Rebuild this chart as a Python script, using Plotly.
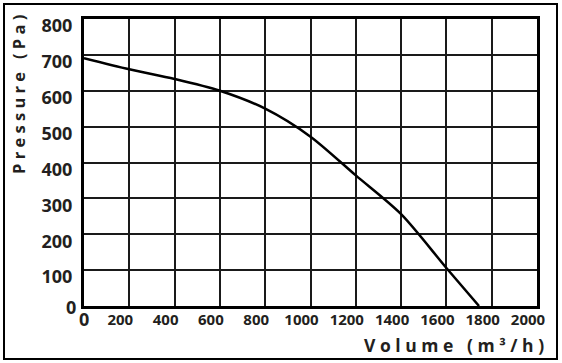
import plotly.graph_objects as go

volume = [0, 200, 400, 600, 800, 1000, 1200, 1400, 1600, 1744]
pressure = [691, 660, 633, 600, 550, 472, 364, 256, 106, 0]

x_ticks = [0, 200, 400, 600, 800, 1000, 1200, 1400, 1600, 1800, 2000]
y_ticks = [0, 100, 200, 300, 400, 500, 600, 700, 800]

W, H = 562, 363
L, R, T, B = 84, 25, 19, 57
pw, ph = W - L - R, H - T - B

FONT = "Open Sans"
INK = "#231f20"

fig = go.Figure()
fig.add_trace(go.Scatter(x=volume, y=pressure, mode="lines",
                         line=dict(color="black", width=2.5, shape="spline", smoothing=0.8),
                         hoverinfo="skip", showlegend=False))

# zeros of both axes are drawn as separate labels at the origin (as in the reference)
x_text = [""] + [str(v) for v in x_ticks[1:]]
y_text = [""] + [str(v) for v in y_ticks[1:]]

fig.update_xaxes(range=[0, 2000], tickvals=x_ticks, ticktext=x_text, automargin=False,
                 showgrid=True, gridcolor="#1a1a1a", gridwidth=2,
                 showline=True, linecolor="black", linewidth=3, mirror=True,
                 zeroline=False, ticks="", ticklabelshift=-9, ticklabelstandoff=-2,
                 tickfont=dict(family=FONT, size=15, color=INK, weight="bold"))
fig.update_yaxes(range=[0, 800], tickvals=y_ticks, ticktext=y_text, automargin=False,
                 showgrid=True, gridcolor="#1a1a1a", gridwidth=2,
                 showline=True, linecolor="black", linewidth=3, mirror=True,
                 zeroline=False, ticks="", ticklabelshift=7, ticklabelstandoff=5,
                 tickfont=dict(family=FONT, size=18, color=INK, weight="bold"))

zero_font = dict(family=FONT, size=18, color=INK, weight="bold")
fig.add_annotation(text=str(y_ticks[0]), x=x_ticks[0], y=y_ticks[0], xref="x", yref="y",
                   showarrow=False, xanchor="right", yanchor="middle",
                   xshift=-6, yshift=-1, font=zero_font)
fig.add_annotation(text=str(x_ticks[0]), x=x_ticks[0], y=y_ticks[0], xref="x", yref="y",
                   showarrow=False, xanchor="center", yanchor="middle",
                   xshift=0, yshift=-13, font=zero_font)

fig.add_annotation(text="P r e s s u r e   ( P a )", xref="paper", yref="paper",
                   x=(18 - L) / pw, y=(H - B - 95) / ph, textangle=-90,
                   showarrow=False, xanchor="center", yanchor="middle",
                   font=dict(family=FONT, size=16.5, color=INK, weight="bold"))
fig.add_annotation(text="V o l u m e   ( m ³ / h )", xref="paper", yref="paper",
                   x=(546 - L) / pw, y=(H - B - 345) / ph,
                   showarrow=False, xanchor="right", yanchor="middle",
                   font=dict(family=FONT, size=17.5, color=INK, weight="bold"))

fig.add_shape(type="rect", xref="paper", yref="paper",
              x0=(4 - L) / pw, x1=(557 - L) / pw,
              y0=(H - B - 359) / ph, y1=(H - B - 4) / ph,
              line=dict(color="black", width=2), layer="below")

fig.update_layout(width=W, height=H, margin=dict(l=L, r=R, t=T, b=B),
                  plot_bgcolor="white", paper_bgcolor="white")

fig.write_html("out.html", config={"displayModeBar": False},
               post_script="document.body.style.margin='0';document.body.style.overflow='hidden';")
